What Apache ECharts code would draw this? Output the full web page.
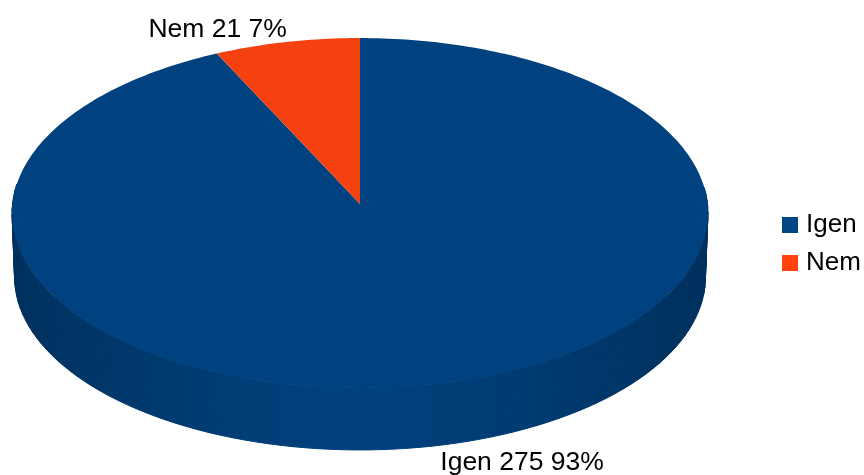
<!DOCTYPE html>
<html>
<head>
<meta charset="utf-8">
<style>
  html, body { margin: 0; padding: 0; background: #fff; }
  #chart { width: 864px; height: 475px; }
</style>
<script src="https://cdn.jsdelivr.net/npm/echarts@6/dist/echarts.min.js"></script>
</head>
<body>
<div id="chart"></div>
<script>
  var categories = ['Igen', 'Nem']
  var values = [275, 21]
  var percents = ['93%', '7%']
  var colors = ['#004586', '#ff420e']
  var topColors = ['#004280', '#f5410f']

  var total = values.reduce(function (a, b) { return a + b }, 0)
  var fontName = '"Liberation Sans", Arial, sans-serif'

  // the disc is drawn in perspective, k is how much the back end shrinks
  var k = 0.0514
  var topDisc = { cx: 360, cy: 204, rx: 347.5, ry: 174.5 }
  var lowDisc = { cx: 360, cy: 268, rx: 345, ry: 172.6 }

  function project(disc, a) {
    var u = Math.sin(a)
    var v = Math.cos(a)
    var w = 1 + k * v
    return [disc.cx + disc.rx * u / w, disc.cy - disc.ry * v / w]
  }

  function sliceRange(index) {
    var before = 0
    for (var i = 0; i < index; i++) before += values[i]
    return [before / total * Math.PI * 2, (before + values[index]) / total * Math.PI * 2]
  }

  function shade(index, a) {
    // side wall gets darker towards both ends of the front
    var t = Math.pow(Math.abs(Math.sin(a)), 1.5)
    if (index === 0) {
      return 'rgb(0,' + Math.round(64 - 16 * t) + ',' + Math.round(124 - 32 * t) + ')'
    }
    return 'rgb(' + Math.round(200 - 60 * t) + ',50,10)'
  }

  function renderSlice(params, api) {
    var index = params.seriesIndex
    var range = sliceRange(index)
    var children = []
    var step = Math.PI / 90
    var a

    // side wall, only the part facing the viewer
    for (a = Math.max(range[0], Math.PI * 0.47); a < Math.min(range[1], Math.PI * 1.53); a += step) {
      var b = Math.min(a + step, range[1])
      var wall = [project(topDisc, a), project(topDisc, b), project(lowDisc, b), project(lowDisc, a)]
      var c = shade(index, a)
      children.push({
        type: 'polygon',
        shape: { points: wall },
        style: { fill: c, stroke: c, lineWidth: 1 }
      })
    }

    // top face
    var face = [[topDisc.cx, topDisc.cy]]
    for (a = range[0]; a < range[1]; a += step / 2) face.push(project(topDisc, a))
    face.push(project(topDisc, range[1]))
    children.push({
      type: 'polygon',
      shape: { points: face },
      style: { fill: topColors[index] }
    })

    // label outside the middle of the slice
    var mid = (range[0] + range[1]) / 2
    var back = Math.cos(mid) > 0
    var anchor = project(back ? topDisc : lowDisc, mid)
    children.push({
      type: 'text',
      x: anchor[0],
      y: anchor[1] + (back ? 1 : 4),
      style: {
        text: categories[index] + ' ' + api.value(0) + ' ' + percents[index],
        fontSize: 26.5,
        fontFamily: fontName,
        fill: '#000',
        align: Math.sin(mid) < 0 ? 'right' : 'left',
        verticalAlign: back ? 'bottom' : 'top'
      }
    })

    return { type: 'group', children: children }
  }

  var chart = echarts.init(document.getElementById('chart'), null, { renderer: 'canvas' })

  chart.setOption({
    animation: false,
    backgroundColor: '#fff',
    legend: {
      left: 782,
      top: 212,
      padding: 0,
      orient: 'vertical',
      icon: 'rect',
      itemWidth: 16,
      itemHeight: 16,
      itemGap: 12,
      selectedMode: false,
      textStyle: { fontSize: 26, fontFamily: fontName, color: '#000', padding: [0, 0, 0, 3] },
      data: categories
    },
    series: categories.map(function (name, i) {
      return {
        type: 'custom',
        name: name,
        coordinateSystem: 'none',
        silent: true,
        itemStyle: { color: colors[i] },
        renderItem: renderSlice,
        data: [[values[i]]]
      }
    })
  })
</script>
</body>
</html>
